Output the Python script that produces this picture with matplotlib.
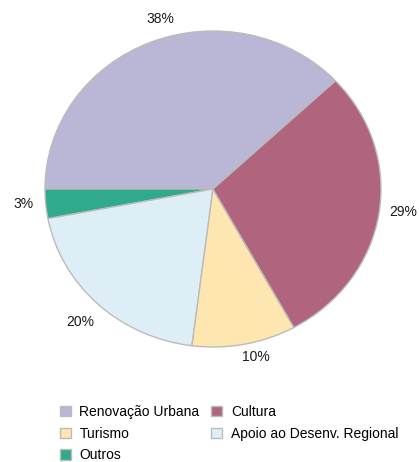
import numpy as np
import matplotlib.pyplot as plt
from matplotlib.patches import Patch

# --- Data (counterclockwise from the upper right) ---
categories = ["Renovação Urbana", "Outros", "Apoio ao Desenv. Regional", "Turismo", "Cultura"]
shares = [38, 3, 20, 10, 29]
colors = ["#B9B6D6", "#30AA8C", "#DEEEF7", "#FDE6B0", "#B0647D"]
legend_order = ["Renovação Urbana", "Turismo", "Outros", "Cultura", "Apoio ao Desenv. Regional"]

# label placement tweaks (styling only): distance from centre, angle shift in degrees
label_dist = [1.12, 1.135, 1.156, 1.094, 1.14]
label_shift = [-5.3, -0.6, 0.0, 2.7, 1.7]

plt.rcParams["font.family"] = ["Liberation Sans", "DejaVu Sans"]

fig = plt.figure(figsize=(4.19, 4.62), dpi=100)
W, H = 419, 462
ax = fig.add_axes([45 / W, (H - 347) / H, 336 / W, 316 / H])

wedges, _ = ax.pie(
    shares,
    colors=colors,
    startangle=43.2,
    counterclock=True,
    wedgeprops=dict(edgecolor="#BBBBBB", linewidth=1.0),
)

# percentage labels outside the pie
for w, val, d, s in zip(wedges, shares, label_dist, label_shift):
    ang = np.deg2rad((w.theta1 + w.theta2) / 2 + s)
    ax.text(d * np.cos(ang), d * np.sin(ang), f"{val}%",
            ha="center", va="center", fontsize=10, color="#1A1A1A")

ax.set_aspect("auto")
ax.set_xlim(-1, 1)
ax.set_ylim(-1, 1)

handles = {c: Patch(facecolor=col, edgecolor="#BBBBBB", linewidth=1.0)
           for c, col in zip(categories, colors)}
fig.legend(
    [handles[c] for c in legend_order], legend_order,
    loc="upper left", bbox_to_anchor=(60 / W, 1 - 405 / H),
    ncol=2, frameon=False, fontsize=10,
    handlelength=0.8, handleheight=0.8, handletextpad=0.6,
    columnspacing=0.85, labelspacing=0.55, borderpad=0, borderaxespad=0,
)

fig.savefig("out.png", dpi=100)
plt.close(fig)
